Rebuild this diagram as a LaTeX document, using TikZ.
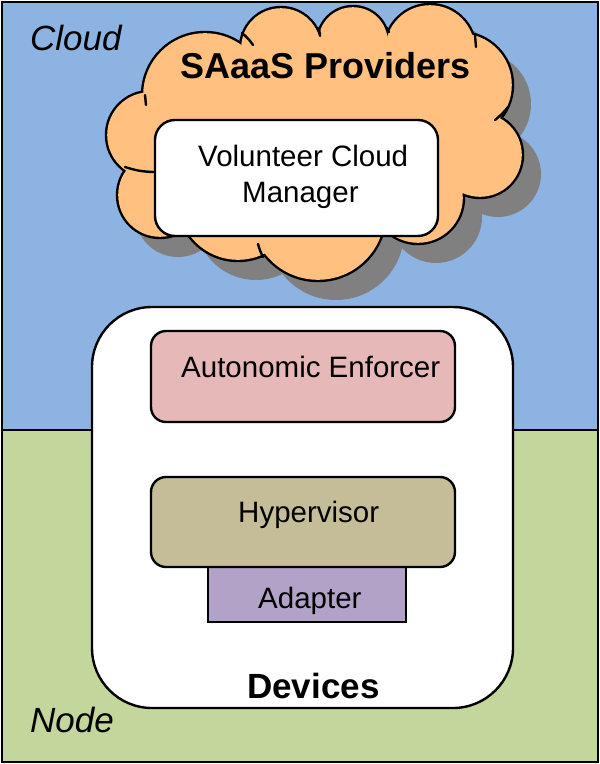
\documentclass[tikz,border=0pt]{standalone}
\usepackage{fontspec}
\setmainfont{Liberation Sans}
\definecolor{skyblue}{HTML}{8DB3E2}
\definecolor{grassgreen}{HTML}{C3D69B}
\definecolor{cloudorange}{HTML}{FFC080}
\definecolor{shadowgray}{HTML}{808080}
\definecolor{aepink}{HTML}{E6B9B8}
\definecolor{hypkhaki}{HTML}{C4BD97}
\definecolor{adpurple}{HTML}{B3A2C7}
\begin{document}
\begin{tikzpicture}[x=1pt,y=-1pt,
  boxline/.style={draw=black, line width=2.4pt},
  stub/.style={draw=black, line width=2.4pt, line cap=round},
  lbl/.style={inner sep=0pt, anchor=base west, font=\fontsize{29.5}{36}\selectfont},
  biglbl/.style={inner sep=0pt, anchor=base west, font=\fontsize{36}{42}\selectfont\bfseries},
  arealbl/.style={inner sep=0pt, anchor=base west, font=\fontsize{35}{42}\selectfont\itshape}]
\useasboundingbox (0,0) rectangle (600,764);
% background regions
\fill[skyblue] (2,2) rectangle (598,430);
\fill[grassgreen] (2,430) rectangle (598,762);
\draw[line width=2.4pt] (2,430) -- (598,430);
\draw[line width=2.6pt] (2,2) rectangle (598,762);
% cloud
\def\cloudcircles{205/95/63, 281/48/41, 353/42/36, 430/50/46, 460/85/53, 480/155/43, 418/198/46, 318/213/68, 238/200/61, 160/195/43, 150/135/44}
\def\cloudpoly{(205,95) -- (281,48) -- (353,42) -- (430,50) -- (460,85) -- (480,155) -- (418,198) -- (318,213) -- (238,200) -- (160,195) -- (150,135) -- cycle}
\begin{scope}[shift={(18,19)}]
  \foreach \cx/\cy/\r in \cloudcircles { \fill[shadowgray] (\cx,\cy) circle[radius=\r pt]; }
  \fill[shadowgray] \cloudpoly;
\end{scope}
\foreach \cx/\cy/\r in \cloudcircles { \fill[black] (\cx,\cy) circle[radius=\r pt+1.2pt]; }
\foreach \cx/\cy/\r in \cloudcircles { \fill[cloudorange] (\cx,\cy) circle[radius=\r pt-1.2pt]; }
\fill[cloudorange] \cloudpoly;
% inner strokes of the cloud outline
\draw[stub] (242,33) to[bend left=8] (253,45);
\draw[stub] (319,28) -- (320,36);
\draw[stub] (386,27) -- (389,32);
\draw[stub] (475,35) -- (476,47);
\draw[stub] (508,107) to[bend left=6] (495,120);
\draw[stub] (263,257) to[bend left=6] (258,244);
\draw[stub] (145,95) -- (146,105);
\draw[stub] (125,167) to[bend right=8] (154,172);
% boxes
\node[boxline, fill=white, rounded corners=20pt, minimum width=283pt, minimum height=116pt] (vcm) at (296.5,178) {};
\node[boxline, fill=white, rounded corners=60pt, minimum width=421pt, minimum height=401pt] (dev) at (302.5,507.5) {};
\node[boxline, fill=aepink, rounded corners=15pt, minimum width=304pt, minimum height=91pt] (ae) at (303,376.5) {};
\node[boxline, fill=adpurple, minimum width=198pt, minimum height=55pt] (adp) at (307,594.5) {};
\node[boxline, fill=hypkhaki, rounded corners=15pt, minimum width=304pt, minimum height=90pt] (hyp) at (303,522) {};
% texts
\node[arealbl] (tcloud) at (30,50) {Cloud};
\node[arealbl] (tnode) at (30,732) {Node};
\node[biglbl] (tsaas) at (180,78) {SAaaS Providers};
\node[lbl] (tvcm1) at (198,166) {Volunteer Cloud};
\node[lbl] (tvcm2) at (242,202) {Manager};
\node[lbl] (tae) at (181,377) {Autonomic Enforcer};
\node[lbl] (thyp) at (238,522) {Hypervisor};
\node[lbl] (tadp) at (258,608) {Adapter};
\node[biglbl, font=\fontsize{35}{42}\selectfont\bfseries] (tdev) at (247,698) {Devices};
\end{tikzpicture}
\end{document}
